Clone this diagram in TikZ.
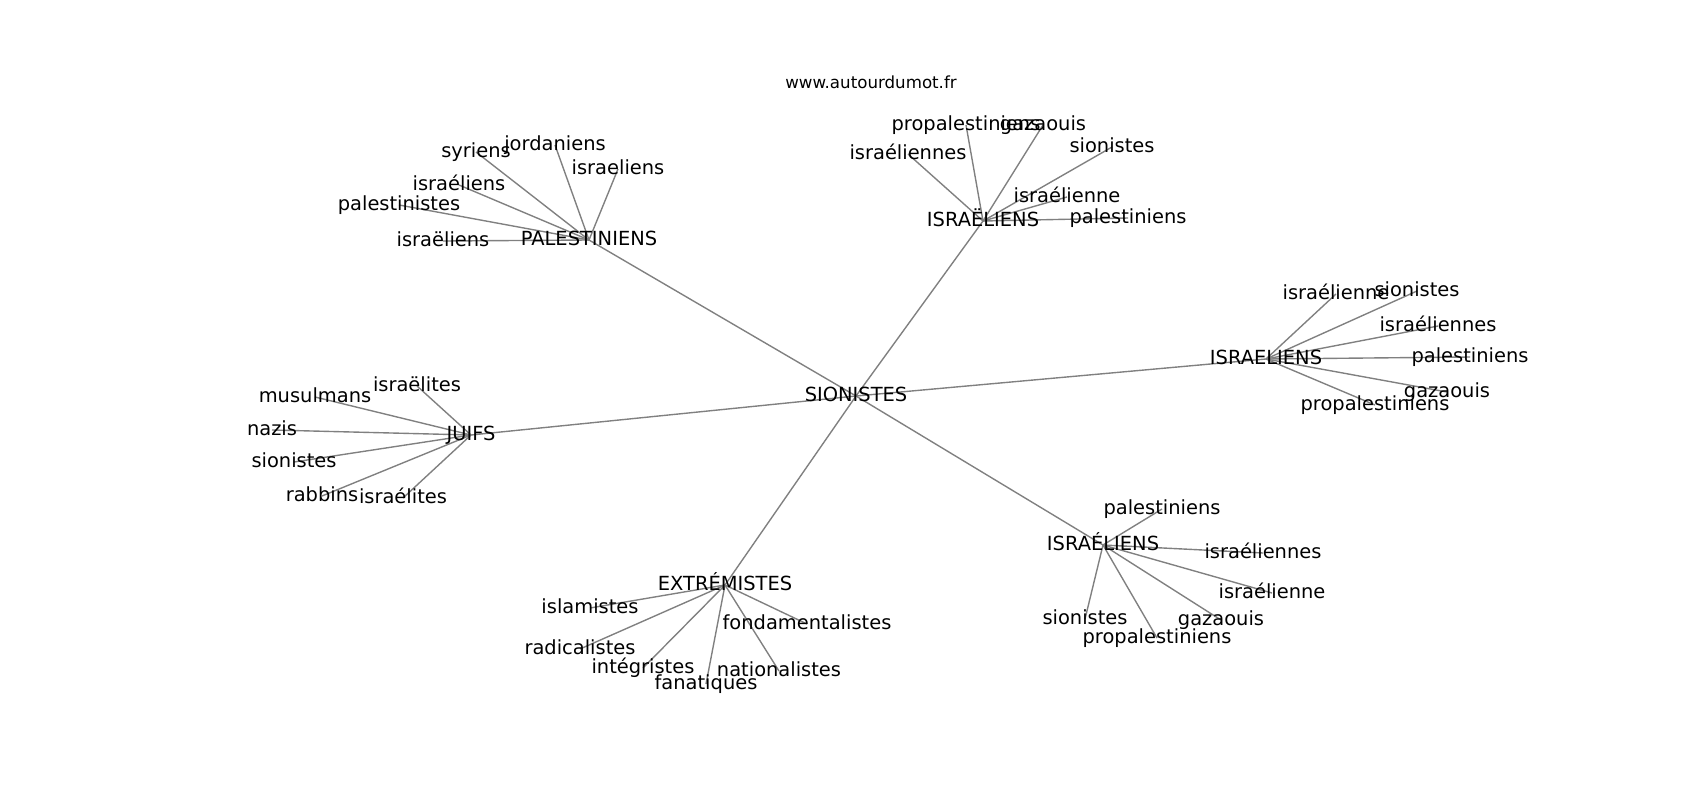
\documentclass[tikz,border=0pt]{standalone}
\usepackage{fontspec}
\setmainfont{DejaVu Sans}
\usetikzlibrary{backgrounds}
\begin{document}
\begin{tikzpicture}[x=0.72pt,y=-0.72pt,
  lbl/.style={font=\fontsize{14}{16}\selectfont, inner sep=0pt, text height=10.6pt, text depth=2.9pt, anchor=center},
  ttl/.style={font=\fontsize{12}{14}\selectfont, inner sep=0pt, text height=9.1pt, text depth=2.5pt, anchor=center},
  edge/.style={draw=gray, line width=1pt}]
\useasboundingbox (0,0) rectangle (1700,800);
\node[ttl] (title) at (871,84) {www.autourdumot.fr};
% hubs
\node[lbl] (s) at (856,396) {SIONISTES};
\node[lbl] (pal) at (589,240) {PALESTINIENS};
\node[lbl] (ia) at (983,221) {ISRAËLIENS};
\node[lbl] (ib) at (1266,359) {ISRAELIENS};
\node[lbl] (ju) at (471,435) {JUIFS};
\node[lbl] (ex) at (725,585) {EXTRÉMISTES};
\node[lbl] (ic) at (1103,545) {ISRAÉLIENS};
% PALESTINIENS leaves
\node[lbl] (p1) at (476,152) {syriens};
\node[lbl] (p2) at (555,145) {jordaniens};
\node[lbl] (p3) at (618,169) {israeliens};
\node[lbl] (p4) at (459,185) {israéliens};
\node[lbl] (p5) at (399,205) {palestinistes};
\node[lbl] (p6) at (443,241) {israëliens};
% ISRAËLIENS leaves
\node[lbl] (a1) at (966,125) {propalestiniens};
\node[lbl] (a2) at (1043,125) {gazaouis};
\node[lbl] (a3) at (908,154) {israéliennes};
\node[lbl] (a4) at (1112,147) {sionistes};
\node[lbl] (a5) at (1067,197) {israélienne};
\node[lbl] (a6) at (1128,218) {palestiniens};
% ISRAELIENS leaves
\node[lbl] (b1) at (1336,294) {israélienne};
\node[lbl] (b2) at (1417,291) {sionistes};
\node[lbl] (b3) at (1438,326) {israéliennes};
\node[lbl] (b4) at (1470,357) {palestiniens};
\node[lbl] (b5) at (1447,392) {gazaouis};
\node[lbl] (b6) at (1375,405) {propalestiniens};
% JUIFS leaves
\node[lbl] (j1) at (417,386) {israëlites};
\node[lbl] (j2) at (315,397) {musulmans};
\node[lbl] (j3) at (272,430) {nazis};
\node[lbl] (j4) at (294,462) {sionistes};
\node[lbl] (j5) at (322,496) {rabbins};
\node[lbl] (j6) at (403,498) {israélites};
% EXTREMISTES leaves
\node[lbl] (e1) at (590,608) {islamistes};
\node[lbl] (e2) at (807,624) {fondamentalistes};
\node[lbl] (e3) at (580,649) {radicalistes};
\node[lbl] (e4) at (643,668) {intégristes};
\node[lbl] (e5) at (779,671) {nationalistes};
\node[lbl] (e6) at (706,684) {fanatiques};
% ISRAÉLIENS leaves
\node[lbl] (c1) at (1162,509) {palestiniens};
\node[lbl] (c2) at (1263,553) {israéliennes};
\node[lbl] (c3) at (1272,593) {israélienne};
\node[lbl] (c4) at (1085,619) {sionistes};
\node[lbl] (c5) at (1221,620) {gazaouis};
\node[lbl] (c6) at (1157,638) {propalestiniens};
\begin{scope}[on background layer]
\foreach \h in {pal,ia,ib,ju,ex,ic} \draw[edge] (s.center) -- (\h.center);
\foreach \l in {p1,p2,p3,p4,p5,p6} \draw[edge] (pal.center) -- (\l.center);
\foreach \l in {a1,a2,a3,a4,a5,a6} \draw[edge] (ia.center) -- (\l.center);
\foreach \l in {b1,b2,b3,b4,b5,b6} \draw[edge] (ib.center) -- (\l.center);
\foreach \l in {j1,j2,j3,j4,j5,j6} \draw[edge] (ju.center) -- (\l.center);
\foreach \l in {e1,e2,e3,e4,e5,e6} \draw[edge] (ex.center) -- (\l.center);
\foreach \l in {c1,c2,c3,c4,c5,c6} \draw[edge] (ic.center) -- (\l.center);
\end{scope}
\end{tikzpicture}
\end{document}
